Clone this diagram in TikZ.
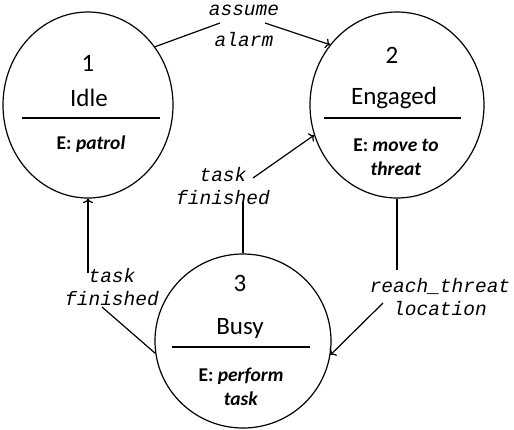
\documentclass[tikz,border=0pt]{standalone}
\usepackage{fontspec}
\setmainfont{Carlito}
\newfontfamily\labfont{Liberation Mono}
\usetikzlibrary{shapes.geometric,arrows.meta}
\tikzset{
  statebox/.style={draw, ellipse, line width=1.2pt, inner sep=0pt},
  statetxt/.style={inner sep=0pt, font=\fontsize{25}{30}\selectfont},
  acttxt/.style={inner sep=0pt, align=center, font=\fontsize{19.5}{23.5}\selectfont\bfseries},
  lab/.style={inner sep=0pt, align=center, font=\labfont\itshape\fontsize{19.5}{23.5}\selectfont},
  conn/.style={line width=1.2pt},
  arr/.style={line width=1.2pt, -{To[length=4.5pt,width=10pt]}},
}
\begin{document}
\begin{tikzpicture}[x=1pt, y=-1pt]
\useasboundingbox (0,0) rectangle (514,429);
% states
\node[statebox, minimum width=170pt, minimum height=186pt] (s1) at (88,105) {};
\node[statebox, minimum width=174pt, minimum height=186pt] (s2) at (397,105) {};
\node[statebox, minimum width=176pt, minimum height=174pt] (s3) at (243,341) {};
% state texts
\node[statetxt] (n1) at (88,63) {1};
\node[statetxt] (t1) at (89,98) {Idle};
\draw[line width=1.2pt] (22,118) -- (160,118);
\node[acttxt] (a1) at (91,144) {E: \textit{patrol}};
\node[statetxt] (n2) at (392,55) {2};
\node[statetxt] (t2) at (394,98) {Engaged};
\draw[line width=1.2pt] (324,118) -- (461,118);
\node[acttxt] (a2) at (396,157) {E: \textit{move to}\\\textit{threat}};
\node[statetxt] (n3) at (240,283) {3};
\node[statetxt] (t3) at (240,328) {Busy};
\draw[line width=1.2pt] (172,347) -- (310,347);
\node[acttxt] (a3) at (241,387) {E: \textit{perform}\\\textit{task}};
% labels
\node[lab] (l12) at (244,26) {assume\\[8pt]alarm};
\node[lab] (l32) at (223,186) {task\\finished};
\node[lab] (l31) at (112,287) {task\\finished};
\node[lab] (l23) at (440,297) {reach\_threat\\location};
% connector ends
\coordinate (e1a) at (220,23);
\coordinate (e1b) at (265,23);
\coordinate (e2a) at (397,270);
\coordinate (e2b) at (383,303);
\coordinate (e3a) at (243,202);
\coordinate (e3b) at (253,178);
\coordinate (e4a) at (102,307);
\coordinate (e4b) at (88,273);
% connectors
\draw[conn] (s1.41) -- (e1a);
\draw[arr] (e1b) -- (s2.138);
\draw[conn] (s2.south) -- (e2a);
\draw[arr] (e2b) -- (s3.-9);
\draw[conn] (s3.north) -- (e3a);
\draw[arr] (e3b) -- (s2.200);
\draw[conn] (s3.188) -- (e4a);
\draw[arr] (e4b) -- (s1.south);
\end{tikzpicture}
\end{document}
